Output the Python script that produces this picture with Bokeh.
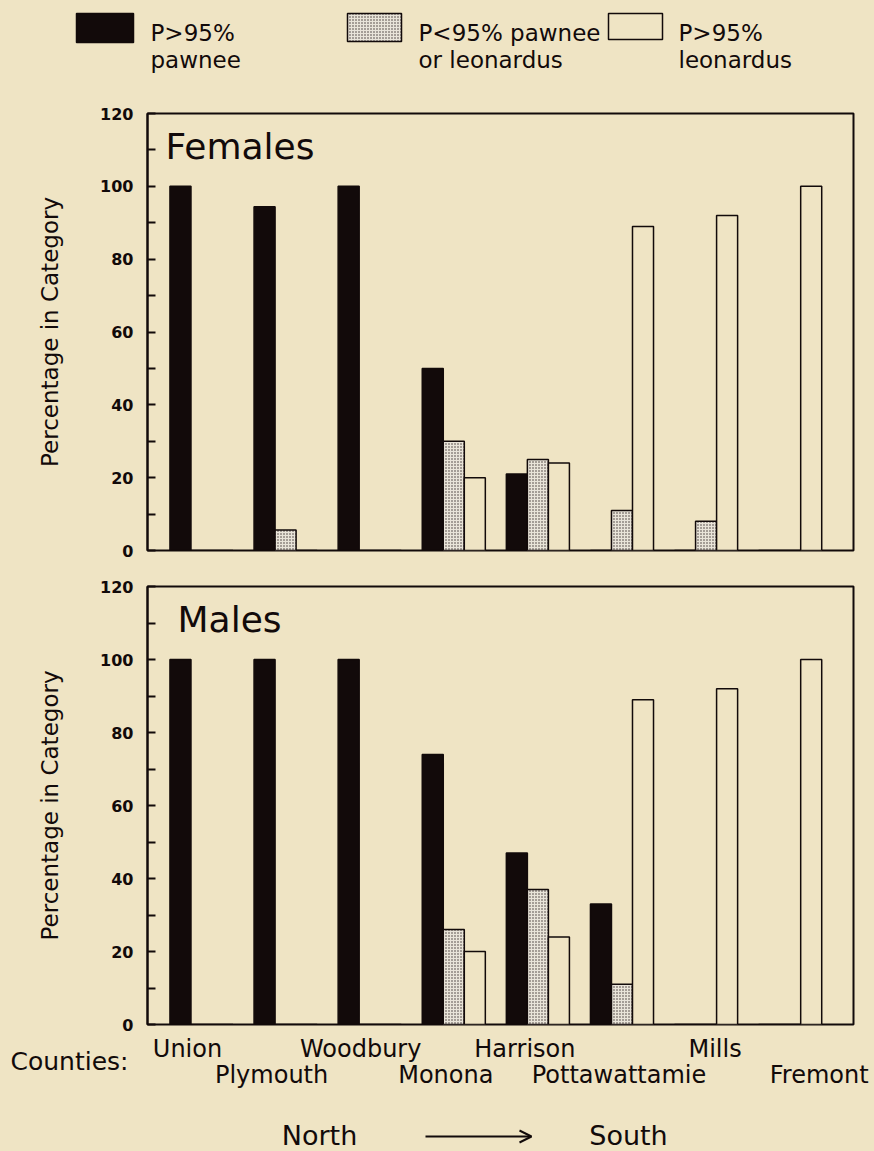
from bokeh.plotting import figure
from bokeh.layouts import column
from bokeh.models import (Range1d, FixedTicker, Label, Arrow, OpenHead,
                          ColumnDataSource)
from bokeh.transform import dodge
from bokeh.core.properties import value
from bokeh.embed import file_html
from bokeh.resources import INLINE

# ---------------- data ----------------
counties = ["Union", "Plymouth", "Woodbury", "Monona", "Harrison",
            "Pottawattamie", "Mills", "Fremont"]
fem_pawnee = [100, 94.4, 100, 50, 21, 0, 0, 0]
fem_inter = [0, 5.6, 0, 30, 25, 11, 8, 0]
fem_leon = [0, 0, 0, 20, 24, 89, 92, 100]
male_pawnee = [100, 100, 100, 74, 47, 33, 0, 0]
male_inter = [0, 0, 0, 26, 37, 11, 0, 0]
male_leon = [0, 0, 0, 20, 24, 89, 92, 100]
y_ticks = [0, 20, 40, 60, 80, 100, 120]
legend_line1 = ["P>95%", "P<95% pawnee", "P>95%"]
legend_line2 = ["pawnee", "or leonardus", "leonardus"]

# ---------------- layout / style ----------------
BG = "#efe4c4"
INK = "#120a0a"
STIP_FILL = "#e9e4d9"
STIP_HATCH = "#3a3232"
FONT = "DejaVu Sans"
W = 874
FRAME_L, FRAME_R = 147, 853
X0, X1 = -0.642, 7.753
PX = (FRAME_R - FRAME_L) / (X1 - X0)        # pixels per category step
SHIFT = 0.39                                # baseline correction (em)


def anchor(baseline_px, size):
    """window-pixel anchor that puts the alphabetic baseline at baseline_px"""
    return baseline_px - SHIFT * size


def style_stipple():
    return dict(fill_color=STIP_FILL, hatch_pattern="dot", hatch_scale=3,
                hatch_color=STIP_HATCH, hatch_weight=0.9)


def panel(title, title_x, title_base, frame_top, frame_bot, pawnee, inter,
          leon, height, btop, bbot):
    src = ColumnDataSource(dict(idx=list(range(len(counties))),
                                pawnee=pawnee, inter=inter, leon=leon))
    p = figure(width=W, height=height,
               x_range=Range1d(X0, X1), y_range=Range1d(0, 120),
               output_backend="svg", toolbar_location=None,
               x_axis_location=None,
               min_border_left=FRAME_L, min_border_right=W - FRAME_R,
               min_border_top=btop, min_border_bottom=bbot,
               background_fill_color=BG, border_fill_color=BG,
               outline_line_color=INK, outline_line_width=2)
    p.grid.visible = False
    p.vbar(x=dodge("idx", -0.25), top="pawnee", width=0.25, source=src,
           fill_color=INK, line_color=INK, line_width=1.5)
    p.vbar(x=dodge("idx", 0.0), top="inter", width=0.25, source=src,
           line_color=INK, line_width=1.5, **style_stipple())
    p.vbar(x=dodge("idx", 0.25), top="leon", width=0.25, source=src,
           fill_color=BG, line_color=INK, line_width=1.5)

    yax = p.yaxis[0]
    yax.ticker = FixedTicker(ticks=y_ticks,
                             minor_ticks=[t + 10 for t in y_ticks[:-1]])
    yax.major_tick_in = 8
    yax.major_tick_out = 0
    yax.minor_tick_in = 8
    yax.minor_tick_out = 0
    yax.axis_line_width = 2
    yax.axis_line_color = INK
    yax.major_tick_line_width = 2
    yax.minor_tick_line_width = 2
    yax.major_tick_line_color = INK
    yax.minor_tick_line_color = INK
    yax.major_label_text_font = FONT
    yax.major_label_text_font_style = "bold"
    yax.major_label_text_font_size = "16px"
    yax.major_label_text_color = INK
    yax.major_label_standoff = 14
    yax.axis_label = "Percentage in Category"
    yax.axis_label_text_font = FONT
    yax.axis_label_text_font_style = "normal"
    yax.axis_label_text_font_size = "23px"
    yax.axis_label_text_color = INK
    yax.axis_label_standoff = 34

    unit = (frame_bot - frame_top) / 120.0
    ty = (frame_bot - anchor(title_base, 36)) / unit
    p.add_layout(Label(x=title_x, y=ty, text=title, text_font=FONT,
                       text_font_size="36px", text_color=INK,
                       text_baseline="alphabetic"))
    return p


# window rows: legend 0-100, top panel 100-568, bottom panel 568-1034, footer 1034-1151
top = panel("Females", -0.428, 160, 113, 550, fem_pawnee, fem_inter, fem_leon,
            height=468, btop=13, bbot=18)
bot = panel("Males", -0.285, 633, 586, 1024, male_pawnee, male_inter, male_leon,
            height=466, btop=18, bbot=10)

# ---------------- legend strip (window pixel coordinates) ----------------
lg = figure(width=W, height=100, x_range=Range1d(0, W),
            y_range=Range1d(100, 0), output_backend="svg",
            toolbar_location=None, min_border=0, frame_align=False,
            background_fill_color=BG, border_fill_color=BG,
            outline_line_color=None, x_axis_location=None, y_axis_location=None)
lg.grid.visible = False
sw_left = [76, 347, 608]
sw_right = [133, 401, 662]
sw_top = [13, 13, 13]
sw_bot = [42, 41, 39]
txt_x = [150, 418, 678]
lg.quad(left=[sw_left[0]], right=[sw_right[0]], top=[sw_top[0]],
        bottom=[sw_bot[0]], fill_color=INK, line_color=INK, line_width=1.5)
lg.quad(left=[sw_left[1]], right=[sw_right[1]], top=[sw_top[1]],
        bottom=[sw_bot[1]], line_color=INK, line_width=1.5, **style_stipple())
lg.quad(left=[sw_left[2]], right=[sw_right[2]], top=[sw_top[2]],
        bottom=[sw_bot[2]], fill_color=BG, line_color=INK, line_width=1.5)
lg.text(x=txt_x, y=[anchor(41, 23)] * 3, text=legend_line1,
        text_font=value(FONT), text_font_size=value("23px"), text_color=INK,
        text_baseline="alphabetic")
lg.text(x=txt_x, y=[anchor(68, 23)] * 3, text=legend_line2,
        text_font=value(FONT), text_font_size=value("23px"), text_color=INK,
        text_baseline="alphabetic")

# ---------------- footer: county names, North -> South ----------------
ft_x0 = X0 - FRAME_L / PX
ft_x1 = X0 + (W - FRAME_L) / PX
ft = figure(width=W, height=117, x_range=Range1d(ft_x0, ft_x1),
            y_range=Range1d(1151, 1034), output_backend="svg",
            toolbar_location=None, min_border=0, frame_align=False,
            background_fill_color=BG, border_fill_color=BG,
            outline_line_color=None, x_axis_location=None, y_axis_location=None)
ft.grid.visible = False
row_base = [1058, 1084]
label_nudge = [-14, -14, -9, -8, -13, -3, 9, 29]
lab_src = ColumnDataSource(dict(
    x=list(range(len(counties))), text=counties,
    y=[anchor(row_base[i % 2], 24) for i in range(len(counties))],
    dx=label_nudge))
ft.text(x="x", y="y", text="text", x_offset="dx", source=lab_src,
        text_font=value(FONT), text_font_size=value("24px"), text_color=INK,
        text_align="center", text_baseline="alphabetic")
ft.text(x=[(128 - 201) / PX], y=[anchor(1071, 25)], text=["Counties:"],
        text_font=value(FONT), text_font_size=value("25px"), text_color=INK,
        text_align="right", text_baseline="alphabetic")
ft.text(x=[(319 - 201) / PX, (628 - 201) / PX], y=[anchor(1146, 27)] * 2,
        text=["North", "South"], text_font=value(FONT),
        text_font_size=value("27px"), text_color=INK,
        text_align="center", text_baseline="alphabetic")
ft.add_layout(Arrow(end=OpenHead(size=12, line_width=2, line_color=INK),
                    x_start=(425 - 201) / PX, y_start=1136,
                    x_end=(531 - 201) / PX, y_end=1136,
                    line_width=2, line_color=INK))

page = column(lg, top, bot, ft, spacing=0)
html = file_html(page, INLINE)
html = html.replace("<head>", "<head><style>html,body{background:%s;}</style>" % BG, 1)
open("out.html", "w").write(html)
